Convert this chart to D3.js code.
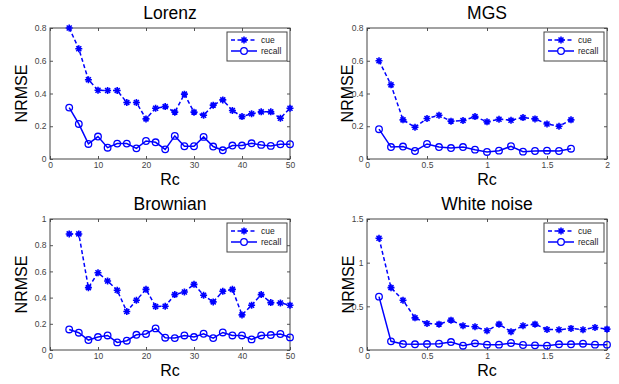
<!DOCTYPE html>
<html>
<head>
<meta charset="utf-8">
<script src="https://cdn.jsdelivr.net/npm/d3@7"></script>
<style>
  body { margin: 0; background: #fff; }
  text { font-family: "Liberation Sans", Arial, sans-serif; }
</style>
</head>
<body>
<div id="chart"></div>
<script>
// data
var rcLorenz = [4,6,8,10,12,14,16,18,20,22,24,26,28,30,32,34,36,38,40,42,44,46,48,50];
var lorenzCue = [0.80,0.673,0.484,0.42,0.418,0.418,0.345,0.345,0.245,0.31,0.32,0.286,0.396,0.286,0.267,0.329,0.361,0.296,0.259,0.276,0.288,0.288,0.249,0.31];
var lorenzRecall = [0.314,0.214,0.092,0.137,0.069,0.094,0.094,0.065,0.11,0.102,0.059,0.141,0.078,0.078,0.135,0.076,0.053,0.082,0.082,0.096,0.086,0.08,0.09,0.09];

var rcMGS = [0.1,0.2,0.3,0.4,0.5,0.6,0.7,0.8,0.9,1.0,1.1,1.2,1.3,1.4,1.5,1.6,1.7];
var mgsCue = [0.60,0.453,0.239,0.194,0.247,0.267,0.231,0.235,0.259,0.227,0.243,0.237,0.253,0.245,0.214,0.20,0.239];
var mgsRecall = [0.182,0.073,0.076,0.049,0.092,0.073,0.067,0.073,0.057,0.043,0.051,0.078,0.045,0.049,0.051,0.049,0.063];

var rcBrownian = [4,6,8,10,12,14,16,18,20,22,24,26,28,30,32,34,36,38,40,42,44,46,48,50];
var brownianCue = [0.886,0.886,0.476,0.59,0.527,0.456,0.294,0.38,0.463,0.332,0.334,0.423,0.443,0.501,0.418,0.367,0.448,0.463,0.268,0.342,0.423,0.362,0.359,0.342];
var brownianRecall = [0.157,0.132,0.076,0.099,0.111,0.058,0.071,0.116,0.122,0.165,0.094,0.091,0.111,0.099,0.124,0.091,0.134,0.111,0.111,0.081,0.111,0.114,0.122,0.096];

var rcNoise = [0.1,0.2,0.3,0.4,0.5,0.6,0.7,0.8,0.9,1.0,1.1,1.2,1.3,1.4,1.5,1.6,1.7,1.8,1.9,2.0];
var noiseCue = [1.28,0.714,0.57,0.368,0.304,0.296,0.342,0.277,0.266,0.22,0.296,0.209,0.277,0.296,0.235,0.232,0.247,0.232,0.258,0.239];
var noiseRecall = [0.611,0.099,0.068,0.065,0.068,0.072,0.091,0.049,0.076,0.061,0.061,0.08,0.057,0.053,0.049,0.065,0.065,0.072,0.061,0.061];

var titles = ["Lorenz", "MGS", "Brownian", "White noise"];
var seriesNames = ["cue", "recall"];
var xTicksA = [0,10,20,30,40,50];
var xTicksB = [0,0.5,1,1.5,2];
var yTicksA = [0,0.2,0.4,0.6,0.8];
var yTicksB = [0,0.2,0.4,0.6,0.8,1];
var yTicksC = [0,0.5,1,1.5];

var W = 619, H = 384;
var blue = "#0000ff";

var panels = [
  {title: titles[0], x: rcLorenz, cue: lorenzCue, recall: lorenzRecall, xd: [0,50], yd: [0,0.8], xt: xTicksA, yt: yTicksA,
   left: 50, top: 28, w: 240, h: 131, ylx: -23},
  {title: titles[1], x: rcMGS, cue: mgsCue, recall: mgsRecall, xd: [0,2], yd: [0,0.8], xt: xTicksB, yt: yTicksA,
   left: 367, top: 28, w: 240, h: 131, ylx: -14},
  {title: titles[2], x: rcBrownian, cue: brownianCue, recall: brownianRecall, xd: [0,50], yd: [0,1], xt: xTicksA, yt: yTicksB,
   left: 50, top: 219, w: 240, h: 131, ylx: -23},
  {title: titles[3], x: rcNoise, cue: noiseCue, recall: noiseRecall, xd: [0,2], yd: [0,1.5], xt: xTicksB, yt: yTicksC,
   left: 367, top: 219, w: 240, h: 131, ylx: -13}
];

var svg = d3.select("#chart").append("svg")
  .attr("width", W)
  .attr("height", H);

svg.append("rect").attr("width", W).attr("height", H).attr("fill", "#fff");

var fmt = function(d) { return d3.format("~g")(d); };

panels.forEach(function(p) {
  var g = svg.append("g")
    .attr("transform", "translate(" + p.left + "," + p.top + ")");

  var x = d3.scaleLinear().domain(p.xd).range([0, p.w]);
  var y = d3.scaleLinear().domain(p.yd).range([p.h, 0]);

  // axes with inward ticks on all four sides (box on)
  var tickCol = "#555";
  g.append("g")
    .attr("transform", "translate(0," + p.h + ")")
    .call(d3.axisBottom(x).tickValues(p.xt).tickSizeInner(-3).tickSizeOuter(0).tickPadding(3).tickFormat(fmt));
  g.append("g")
    .call(d3.axisTop(x).tickValues(p.xt).tickSizeInner(-3).tickSizeOuter(0).tickFormat(""));
  g.append("g")
    .call(d3.axisLeft(y).tickValues(p.yt).tickSizeInner(-3).tickSizeOuter(0).tickPadding(3.5).tickFormat(fmt));
  g.append("g")
    .attr("transform", "translate(" + p.w + ",0)")
    .call(d3.axisRight(y).tickValues(p.yt).tickSizeInner(-3).tickSizeOuter(0).tickFormat(""));

  g.selectAll(".domain").remove();
  g.selectAll(".tick line").attr("stroke", tickCol);
  g.selectAll(".tick text")
    .attr("fill", "#444")
    .style("font-size", "8.5px")
    .style("font-family", "'Liberation Sans', Arial, sans-serif");

  g.append("rect")
    .attr("width", p.w).attr("height", p.h)
    .attr("fill", "none").attr("stroke", "#444").attr("stroke-width", 1);

  var pts = function(vals) { return p.x.map(function(v, i) { return [v, vals[i]]; }); };
  var line = d3.line().x(d => x(d[0])).y(d => y(d[1]));

  // cue: dashed with star markers
  g.append("path")
    .datum(pts(p.cue))
    .attr("d", line)
    .attr("fill", "none").attr("stroke", blue).attr("stroke-width", 1.5)
    .attr("stroke-dasharray", "4,2.5");

  g.selectAll(".star")
    .data(pts(p.cue))
    .enter().append("path")
    .attr("class", "star")
    .attr("transform", d => "translate(" + x(d[0]) + "," + y(d[1]) + ")")
    .attr("d", "M-3.5,0H3.5M0,-3.5V3.5M-2.5,-2.5L2.5,2.5M-2.5,2.5L2.5,-2.5")
    .attr("stroke", blue).attr("stroke-width", 1.6);

  // recall: solid with open circles
  g.append("path")
    .datum(pts(p.recall))
    .attr("d", line)
    .attr("fill", "none").attr("stroke", blue).attr("stroke-width", 1.5);

  g.selectAll(".circ")
    .data(pts(p.recall))
    .enter().append("circle")
    .attr("class", "circ")
    .attr("cx", d => x(d[0]))
    .attr("cy", d => y(d[1]))
    .attr("r", 3.3)
    .attr("fill", "none").attr("stroke", blue).attr("stroke-width", 1.3);

  // legend
  var lg = g.append("g").attr("transform", "translate(" + (p.w - 63) + ",4)");
  lg.append("rect").attr("width", 60).attr("height", 29)
    .attr("fill", "#fff").attr("stroke", "#444").attr("stroke-width", 1);
  seriesNames.forEach(function(name, i) {
    var ly = 8 + i * 11;
    lg.append("line").attr("x1", 4).attr("x2", 30).attr("y1", ly).attr("y2", ly)
      .attr("stroke", blue).attr("stroke-width", 1.5)
      .attr("stroke-dasharray", i === 0 ? "4,2.5" : null);
    if (i === 0) {
      lg.append("path").attr("transform", "translate(17," + ly + ")")
        .attr("d", "M-3.5,0H3.5M0,-3.5V3.5M-2.5,-2.5L2.5,2.5M-2.5,2.5L2.5,-2.5")
        .attr("stroke", blue).attr("stroke-width", 1.6);
    } else {
      lg.append("circle").attr("cx", 17).attr("cy", ly).attr("r", 3.3)
        .attr("fill", "#fff").attr("stroke", blue).attr("stroke-width", 1.3);
    }
    lg.append("text").attr("x", 34).attr("y", ly + 3)
      .style("font-size", "8.5px").attr("fill", "#222").text(name);
  });

  // title and axis labels
  g.append("text")
    .attr("x", p.w / 2).attr("y", -9)
    .attr("text-anchor", "middle")
    .style("font-size", "17.5px")
    .text(p.title);

  g.append("text")
    .attr("x", p.w / 2).attr("y", p.h + 26)
    .attr("text-anchor", "middle")
    .style("font-size", "16px")
    .text("Rc");

  g.append("text")
    .attr("transform", "translate(" + p.ylx + "," + (p.h / 2) + ") rotate(-90)")
    .attr("text-anchor", "middle")
    .style("font-size", "16px")
    .text("NRMSE");
});
</script>
</body>
</html>
